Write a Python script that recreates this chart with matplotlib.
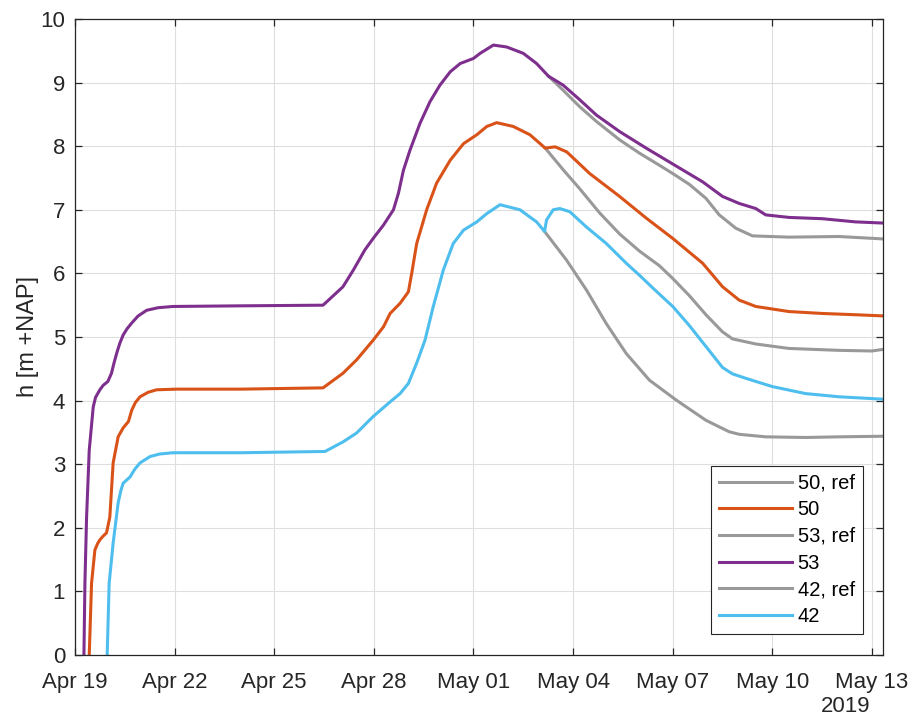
import numpy as np
import pandas as pd
import matplotlib
matplotlib.use('Agg')
import matplotlib.pyplot as plt
import matplotlib.dates as mdates
from matplotlib.ticker import MultipleLocator

# start of the record, times below are in days from here
t0 = pd.Timestamp('2019-04-19 00:00')

# 53 (measured)
t_53 = [0.265, 0.27, 0.30, 0.35, 0.43, 0.55, 0.62, 0.75, 0.85, 0.99, 1.10, 1.18, 1.26, 1.35,
        1.45, 1.57, 1.71, 1.90, 2.16, 2.50, 2.95,
        5.0, 7.47, 8.07, 8.38, 8.73, 8.98, 9.29, 9.59, 9.74, 9.89, 10.09, 10.39, 10.69,
        10.99, 11.3, 11.6, 12.0, 12.2, 12.6, 13.0, 13.5, 13.9, 14.26, 14.7, 15.2, 15.7,
        16.4, 17.2, 18.0, 18.9, 19.5, 20.0, 20.5, 20.8, 21.5, 22.5, 23.5, 24.4]
h_53 = [-0.3, 0.0, 1.13, 2.17, 3.22, 3.90, 4.05, 4.17, 4.24, 4.30, 4.43, 4.60, 4.75, 4.90,
        5.03, 5.13, 5.22, 5.33, 5.42, 5.46, 5.48,
        5.49, 5.50, 5.79, 6.05, 6.37, 6.55, 6.76, 7.00, 7.26, 7.62, 7.94, 8.36, 8.70,
        8.96, 9.17, 9.30, 9.38, 9.46, 9.59, 9.56, 9.46, 9.30, 9.10, 8.96, 8.73, 8.49,
        8.23, 7.97, 7.72, 7.44, 7.21, 7.10, 7.02, 6.92, 6.88, 6.86, 6.81, 6.79]

# 50 (measured)
t_50 = [0.42, 0.43, 0.50, 0.60, 0.68, 0.75, 0.85, 0.95, 1.05, 1.15, 1.30, 1.45, 1.61, 1.71,
        1.82, 1.96, 2.20, 2.46, 3.06,
        5.0, 7.47, 8.07, 8.48, 8.98, 9.29, 9.49, 9.79, 10.04, 10.14, 10.29, 10.59, 10.89,
        11.3, 11.7, 12.1, 12.4, 12.7, 13.2, 13.7, 14.16, 14.46, 14.81, 15.5, 16.4, 17.2,
        18.0, 18.9, 19.5, 20.0, 20.5, 21.5, 22.5, 23.5, 24.4]
h_50 = [-0.3, 0.0, 1.13, 1.65, 1.75, 1.81, 1.87, 1.92, 2.17, 3.02, 3.43, 3.57, 3.67, 3.85,
        3.97, 4.06, 4.13, 4.17, 4.18,
        4.18, 4.20, 4.43, 4.64, 4.95, 5.16, 5.37, 5.53, 5.71, 6.00, 6.47, 7.00, 7.42,
        7.78, 8.04, 8.18, 8.31, 8.37, 8.31, 8.18, 7.97, 7.99, 7.91, 7.57, 7.21, 6.87,
        6.55, 6.16, 5.79, 5.58, 5.48, 5.40, 5.37, 5.35, 5.33]

# 42 (measured)
t_42 = [0.96, 0.97, 1.03, 1.15, 1.30, 1.38, 1.45, 1.66, 1.80, 1.96, 2.26, 2.55, 2.95,
        5.0, 7.53, 8.07, 8.48,
        8.98, 9.49, 9.79, 10.04, 10.29, 10.54, 10.79, 11.09, 11.39, 11.7, 12.1, 12.4, 12.8,
        13.4, 13.9, 14.14, 14.2, 14.4, 14.6, 14.9, 15.4, 16.0, 16.6, 17.0, 17.4, 18.0,
        18.5, 19.0, 19.5, 19.8, 20.2, 21.0, 22.0, 23.0, 24.4]
h_42 = [-0.3, 0.0, 1.13, 1.76, 2.39, 2.58, 2.70, 2.80, 2.92, 3.02, 3.12, 3.16, 3.18,
        3.18, 3.20, 3.35, 3.49,
        3.75, 3.98, 4.11, 4.27, 4.59, 4.95, 5.48, 6.05, 6.47, 6.68, 6.81, 6.94, 7.08,
        7.00, 6.81, 6.66, 6.84, 7.00, 7.02, 6.97, 6.73, 6.47, 6.16, 5.97, 5.77, 5.48,
        5.18, 4.85, 4.52, 4.42, 4.35, 4.22, 4.11, 4.06, 4.02]

# reference runs, they follow the measured curves until they split off
t_50ref = [14.16, 14.7, 15.2, 15.8, 16.4, 17.0, 17.6, 18.0, 18.5, 19.0, 19.5, 19.8, 20.5,
           21.5, 23.0, 24.0, 24.4]
h_50ref = [7.97, 7.63, 7.33, 6.95, 6.62, 6.35, 6.12, 5.92, 5.65, 5.35, 5.08, 4.97, 4.89,
           4.82, 4.79, 4.78, 4.81]

t_53ref = [14.26, 14.7, 15.2, 15.7, 16.4, 17.0, 17.6, 18.0, 18.5, 19.0, 19.4, 19.9, 20.4,
           21.5, 23.0, 24.4]
h_53ref = [9.10, 8.88, 8.62, 8.39, 8.10, 7.89, 7.70, 7.57, 7.40, 7.18, 6.92, 6.71, 6.59,
           6.57, 6.58, 6.54]

t_42ref = [14.14, 14.8, 15.4, 16.0, 16.6, 17.0, 17.3, 18.1, 19.0, 19.7, 20.0, 20.8, 22.0,
           23.0, 24.4]
h_42ref = [6.66, 6.21, 5.74, 5.21, 4.74, 4.50, 4.32, 4.01, 3.69, 3.51, 3.47, 3.43, 3.42,
           3.43, 3.44]


def to_time(days):
    """days since t0 -> timestamps"""
    return t0 + pd.to_timedelta(np.asarray(days), unit='D')


plt.rc('font', family=['Liberation Sans', 'DejaVu Sans'], size=16)
plt.rcParams['xtick.direction'] = 'in'
plt.rcParams['ytick.direction'] = 'in'
plt.rcParams['xtick.top'] = True
plt.rcParams['ytick.right'] = True

fig = plt.figure(figsize=(9.13, 7.17), dpi=100)
ax = fig.add_axes([0.0821, 0.0865, 0.885, 0.887])

c_ref = '#999999'
c_50 = '#D95319'
c_53 = '#7E2F8E'
c_42 = '#4DBEEE'
lw = 2.2

l1, = ax.plot(to_time(t_50ref), h_50ref, color=c_ref, linewidth=lw)
l2, = ax.plot(to_time(t_50), h_50, color=c_50, linewidth=lw)
l3, = ax.plot(to_time(t_53ref), h_53ref, color=c_ref, linewidth=lw)
l4, = ax.plot(to_time(t_53), h_53, color=c_53, linewidth=lw)
l5, = ax.plot(to_time(t_42ref), h_42ref, color=c_ref, linewidth=lw)
l6, = ax.plot(to_time(t_42), h_42, color=c_42, linewidth=lw)

leg = ax.legend(handles=[l1, l2, l3, l4, l5, l6],
                labels=['50, ref', '50', '53, ref', '53', '42, ref', '42'],
                loc='lower right', bbox_to_anchor=(0.975, 0.033), fontsize=14.5,
                handlelength=3.6, handletextpad=0.3, labelspacing=0.38,
                borderpad=0.4, fancybox=False, framealpha=1, borderaxespad=0)
leg.get_frame().set_edgecolor('#262626')
leg.get_frame().set_linewidth(0.8)

ax.set_xlim(to_time([0.0])[0], to_time([24.33])[0])
ax.set_ylim(0, 10)

ax.xaxis.set_major_locator(mdates.DayLocator(bymonthday=[1, 4, 7, 10, 13, 19, 22, 25, 28]))
ax.xaxis.set_major_formatter(mdates.DateFormatter('%b %d'))
ax.yaxis.set_major_locator(MultipleLocator(1))

ax.grid(True, color='#dedede', linewidth=0.8)
ax.set_axisbelow(True)
for s in ax.spines.values():
    s.set_color('#262626')
    s.set_linewidth(0.9)
ax.tick_params(colors='#262626', length=5, width=0.9)
ax.tick_params(axis='x', pad=12)
ax.tick_params(axis='y', pad=7)

ax.set_ylabel('h [m +NAP]', fontsize=17, color='#262626')
ax.yaxis.set_label_coords(-0.044, 0.5)

fig.text(870 / 913, 1 - 707 / 717, '2019', ha='right', va='center', fontsize=16,
         color='#262626')

plt.savefig('out.png', dpi=100)
